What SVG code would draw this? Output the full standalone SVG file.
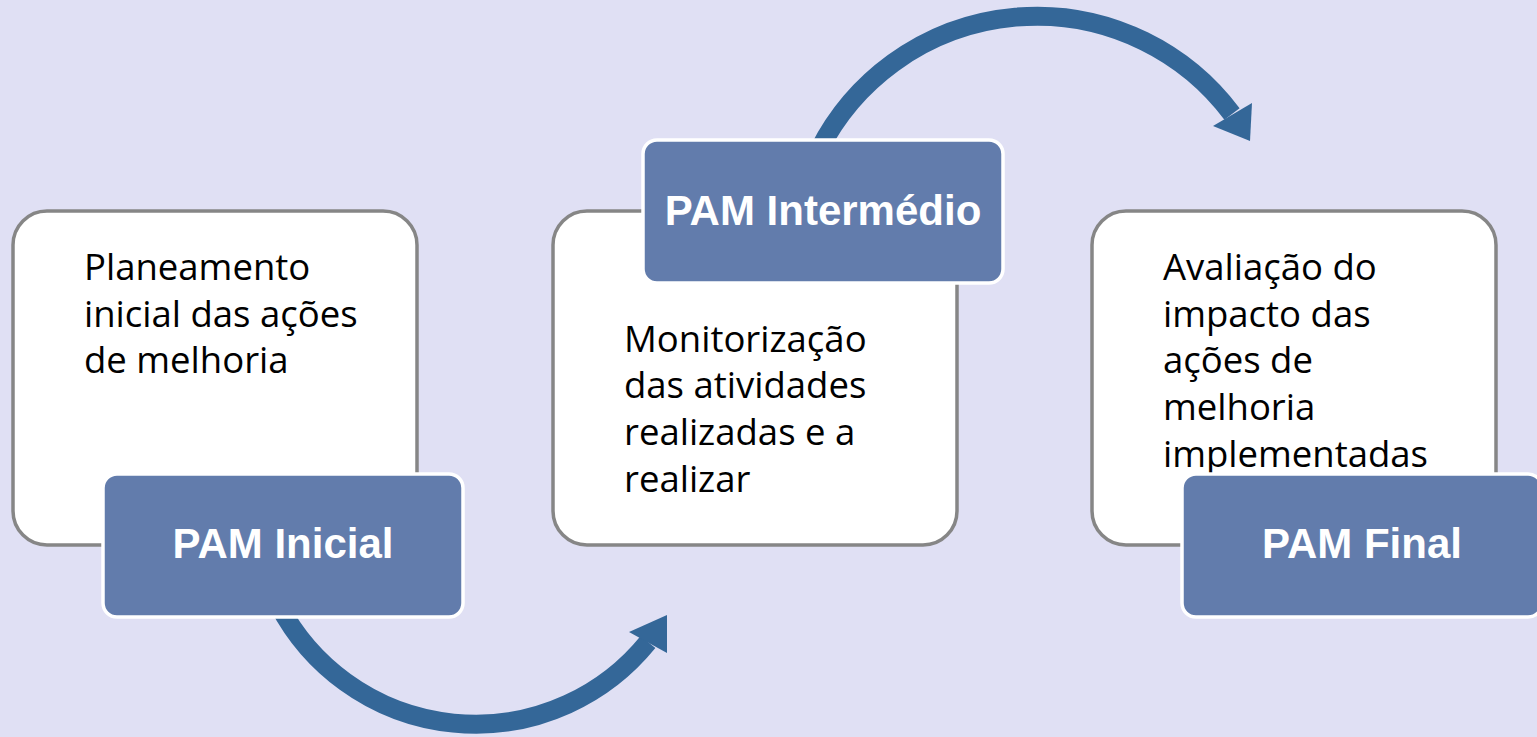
<svg xmlns="http://www.w3.org/2000/svg" width="1537" height="737" viewBox="0 0 1537 737">
<style>
.bg{fill:#E0E0F4}
.box{fill:#FFFFFF;stroke:#868686;stroke-width:3.5}
.lbl{fill:#627CAC;stroke:#FFFFFF;stroke-width:3.5}
.body{font-family:"Open Sans","Noto Sans",sans-serif;font-size:36.5px;fill:#000000}
.ltxt{font-family:"Liberation Sans",Arial,sans-serif;font-size:42px;font-weight:bold;fill:#FFFFFF;text-anchor:middle}
.shaft{fill:none;stroke:#346798;stroke-width:19}
.head{fill:#346798}
</style>
<rect class="bg" x="0" y="0" width="1537" height="737"/>
<g id="connectors">
<path class="shaft" d="M 278.8 605 A 222 222 0 0 0 648 642"/>
<polygon class="head" points="667,615 629,632 667,653"/>
<path class="shaft" d="M 819 150 A 244 244 0 0 1 1232 114"/>
<polygon class="head" points="1250,141 1252,103 1213,126"/>
</g>
<g id="node1">
<rect class="box" x="13" y="211" width="404" height="334" rx="34"/>
<text class="body" x="84" y="280">Planeamento</text>
<text class="body" x="84" y="327">inicial das ações</text>
<text class="body" x="84" y="373">de melhoria</text>
</g>
<g id="label1">
<rect class="lbl" x="103" y="474" width="360" height="143" rx="14"/>
<text class="ltxt" x="283" y="558">PAM Inicial</text>
</g>
<g id="node2">
<rect class="box" x="553" y="211" width="404" height="334" rx="34"/>
<text class="body" x="624" y="352">Monitorização</text>
<text class="body" x="624" y="398">das atividades</text>
<text class="body" x="624" y="445">realizadas e a</text>
<text class="body" x="624" y="492">realizar</text>
</g>
<g id="label2">
<rect class="lbl" x="643" y="140" width="360" height="143" rx="14"/>
<text class="ltxt" x="823" y="225">PAM Intermédio</text>
</g>
<g id="node3">
<rect class="box" x="1092" y="211" width="404" height="334" rx="34"/>
<text class="body" x="1163" y="280">Avaliação do</text>
<text class="body" x="1163" y="327">impacto das</text>
<text class="body" x="1163" y="373">ações de</text>
<text class="body" x="1163" y="420">melhoria</text>
<text class="body" x="1163" y="467">implementadas</text>
</g>
<g id="label3">
<rect class="lbl" x="1182" y="474" width="360" height="143" rx="14"/>
<text class="ltxt" x="1362" y="558">PAM Final</text>
</g>
</svg>
